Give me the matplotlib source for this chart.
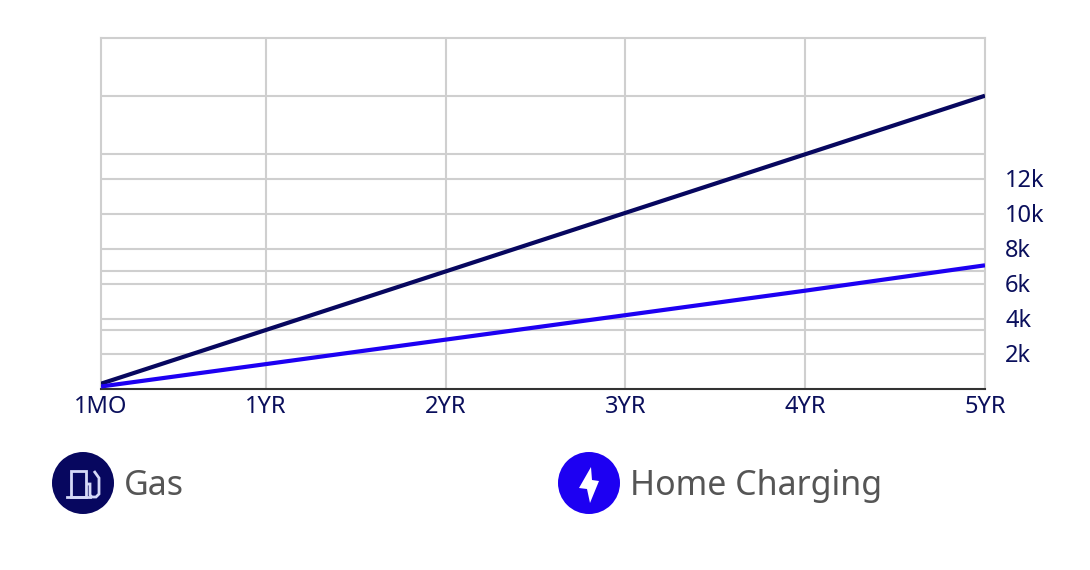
import matplotlib
matplotlib.use("Agg")
import matplotlib.pyplot as plt
from matplotlib.patches import Circle, Polygon, Rectangle, PathPatch
from matplotlib.path import Path
from matplotlib.transforms import ScaledTranslation

months = [1, 12, 24, 36, 48, 60]
x_labels = ["1MO", "1YR", "2YR", "3YR", "4YR", "5YR"]
gas = [280, 3350, 6700, 10050, 13400, 16750]
home = [120, 1400, 2800, 4200, 5600, 7050]
y_ticks = [2000, 4000, 6000, 8000, 10000, 12000]
y_labels = ["2k", "4k", "6k", "8k", "10k", "12k"]
extra_grid = [3350, 6700, 13400, 16750]
legend_names = ["Gas", "Home Charging"]

NAVY = "#0a0f5c"
GAS_C = "#07075f"
HOME_C = "#1d00f2"
GRID = "#cfcfcf"
W, H = 1090, 570

plt.rcParams["font.family"] = ["Noto Sans", "DejaVu Sans"]
fig = plt.figure(figsize=(W / 100, H / 100), dpi=100, facecolor="white")
ax = fig.add_axes([101 / W, 1 - 388.6 / H, (985 - 101) / W, (388.6 - 38) / H])
ax.set_xlim(1, 60)
ax.set_ylim(0, 20050)

for v in y_ticks + extra_grid:
    ax.axhline(v, color=GRID, lw=1.5, zorder=1)
for m in months[1:-1]:
    ax.axvline(m, color=GRID, lw=1.5, zorder=1)

ax.plot(months, gas, color=GAS_C, lw=3.0, zorder=3, solid_capstyle="butt")
ax.plot(months, home, color=HOME_C, lw=3.0, zorder=4, solid_capstyle="butt")

for s in ["top", "left", "right"]:
    ax.spines[s].set_color(GRID)
    ax.spines[s].set_linewidth(1.5)
ax.spines["bottom"].set_color("#333333")
ax.spines["bottom"].set_linewidth(1.5)

ax.set_xticks(months, x_labels)
ax.tick_params(axis="x", length=0, pad=4.5, labelsize=17, labelcolor=NAVY)
ax.yaxis.tick_right()
ax.set_yticks(y_ticks, y_labels)
ax.tick_params(axis="y", length=0, pad=14.5, labelsize=17, labelcolor=NAVY)
shift = ScaledTranslation(0, 0.5 / 72, fig.dpi_scale_trans)
for lab in ax.get_yticklabels():
    lab.set_transform(lab.get_transform() + shift)

# Legend drawn on a pixel-space overlay
ov = fig.add_axes([0, 0, 1, 1], facecolor="none")
ov.set_xlim(0, W)
ov.set_ylim(H, 0)
ov.axis("off")
ICON = "#d5d8f7"

ov.add_patch(Circle((83, 483), 31, color=GAS_C, lw=0))
ov.add_patch(Rectangle((71, 471), 15, 26, fill=False, ec=ICON, lw=2))
ov.plot([67, 90], [497, 497], color=ICON, lw=2)
ov.add_patch(PathPatch(Path([(87, 484), (90, 484), (90, 495), (92, 497), (96, 497), (99, 494), (99, 478), (94, 471)]),
                       fill=False, ec=ICON, lw=2))

ov.add_patch(Circle((589, 483), 31, color=HOME_C, lw=0))
ov.add_patch(Polygon([(591, 467), (579, 488), (587, 489), (590, 503), (599, 481), (592, 480)],
                     closed=True, color="white", lw=0))

ov.text(124, 486, legend_names[0], color="#555555", fontsize=24.4, va="center", ha="left")
ov.text(630, 486, legend_names[1], color="#555555", fontsize=24.4, va="center", ha="left")

fig.savefig("out.png", dpi=100, facecolor="white")
